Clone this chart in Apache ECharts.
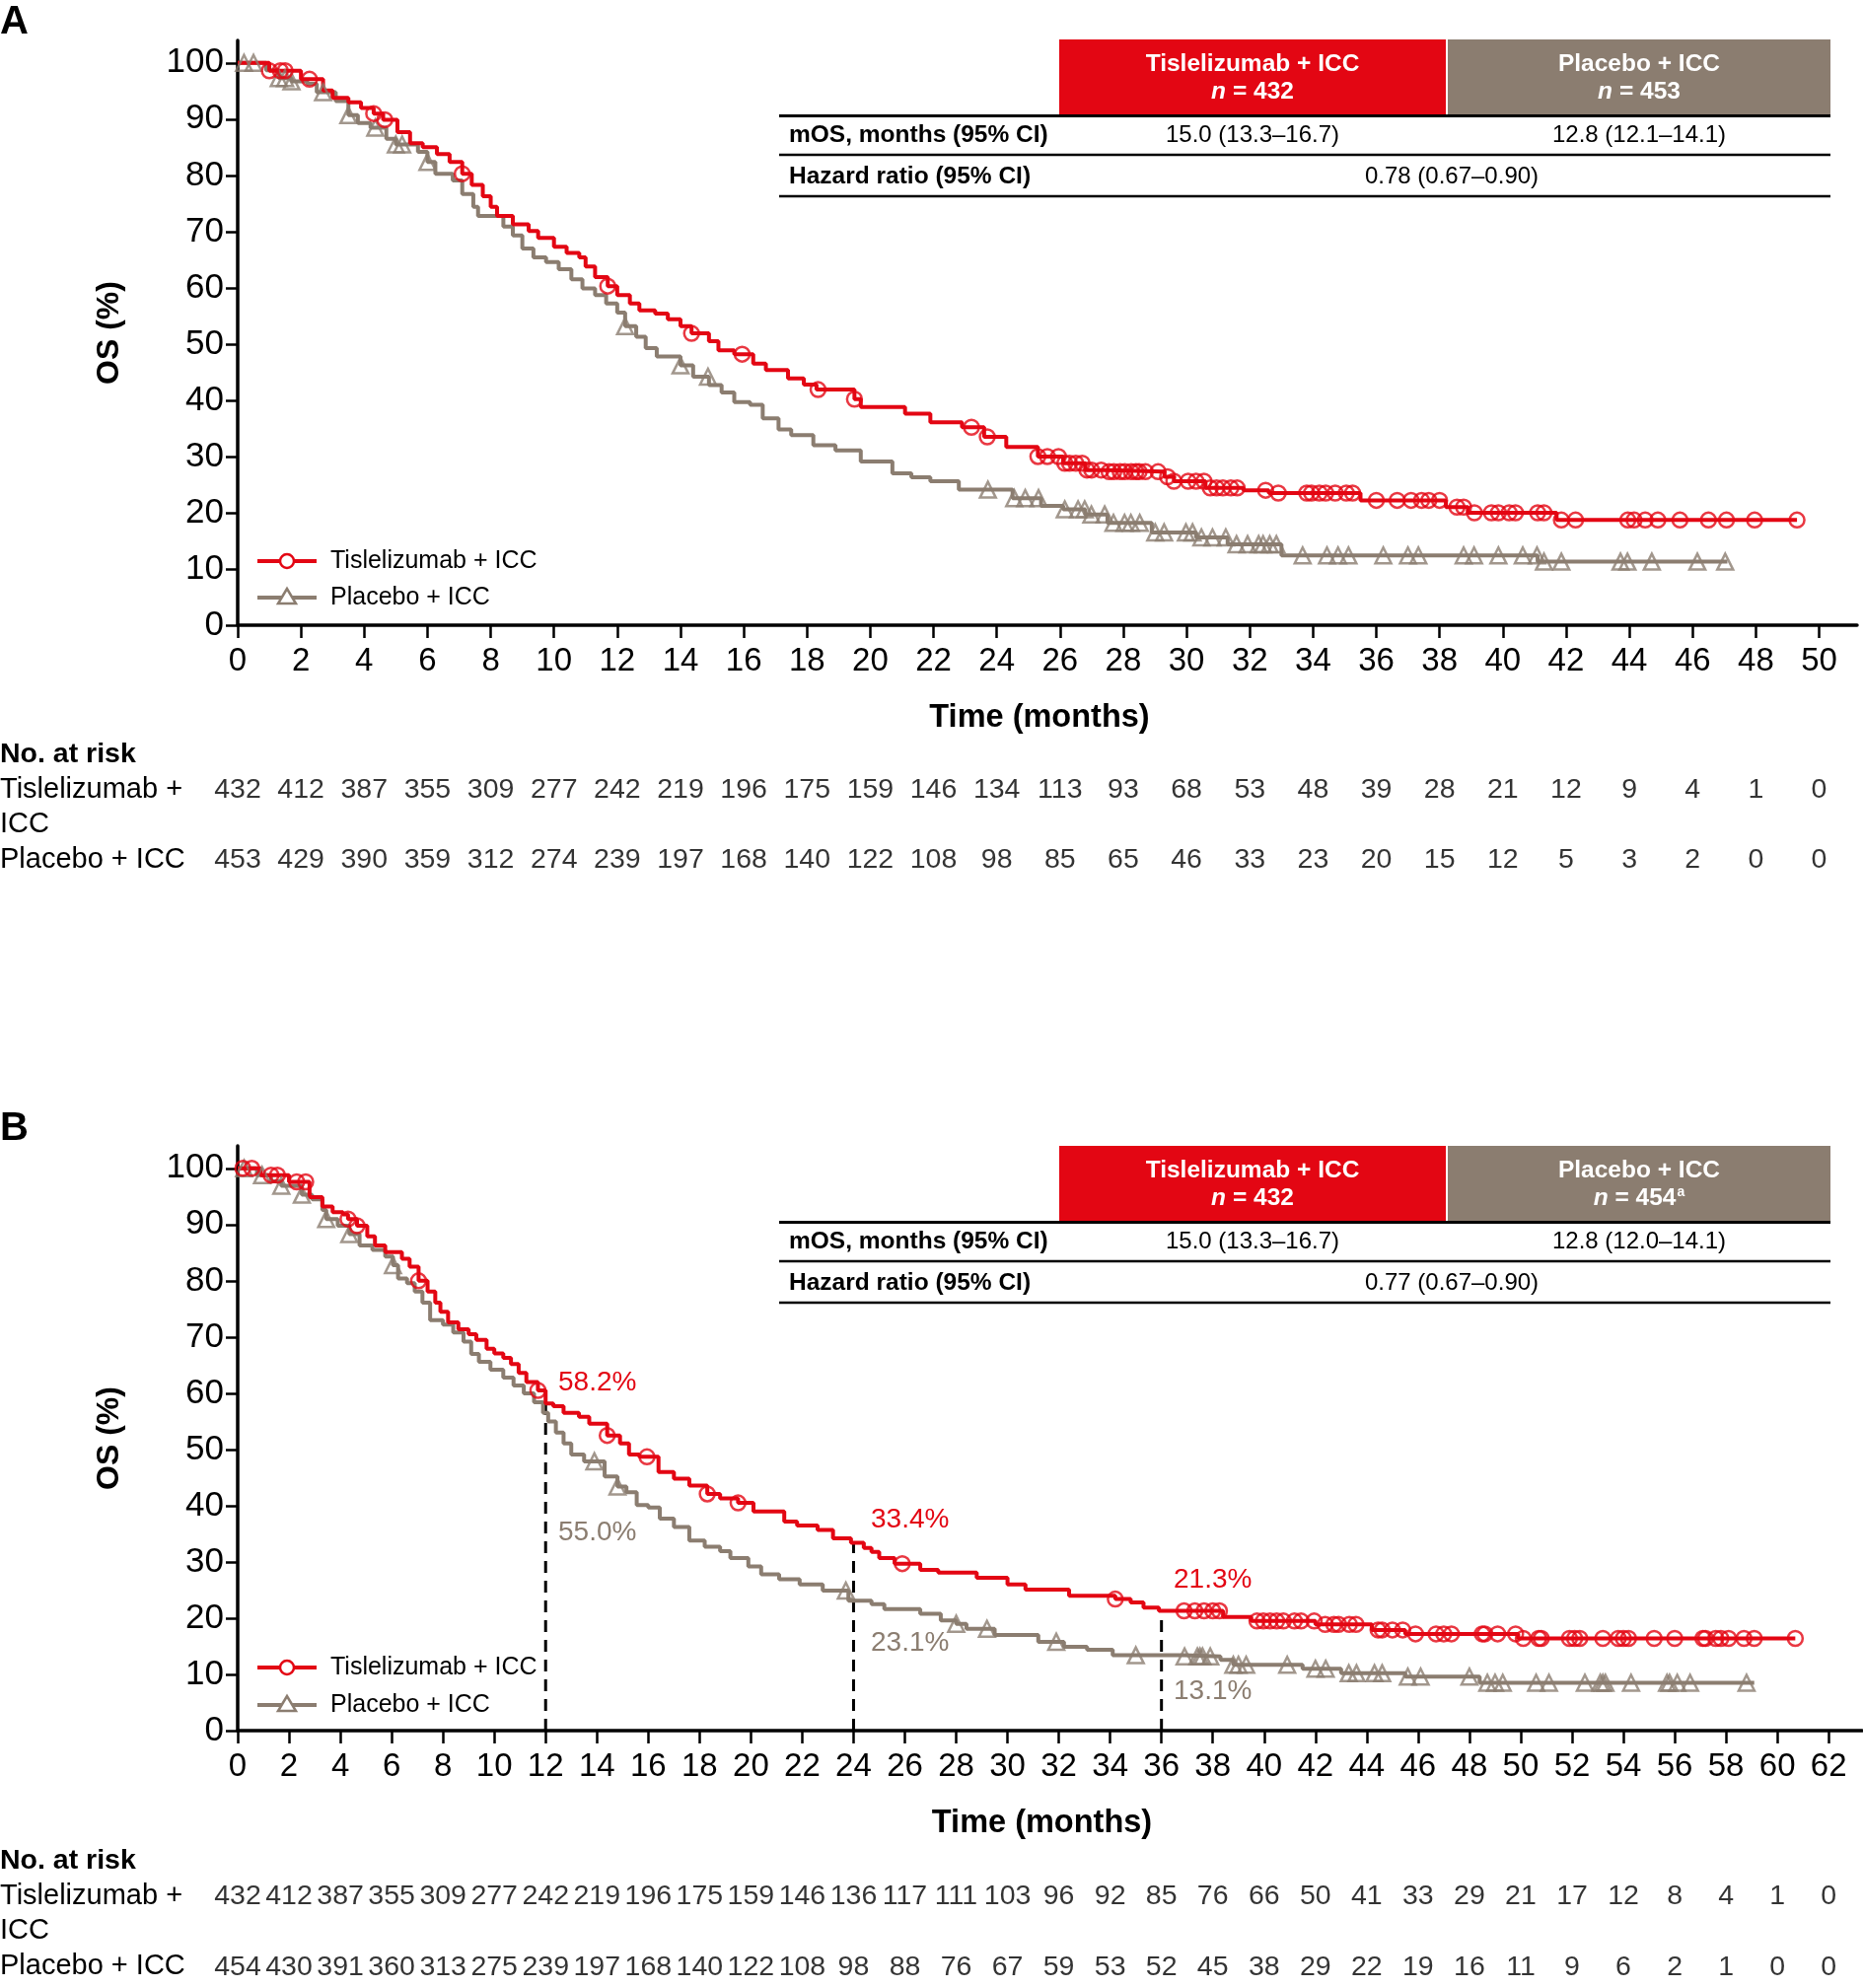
<!DOCTYPE html>
<html>
<head>
<meta charset="utf-8">
<title>Overall survival</title>
<script src="https://cdn.jsdelivr.net/npm/echarts@6.0.0/dist/echarts.min.js"></script>
<style>
  html, body { margin: 0; padding: 0; background: #fff; }
  #chart { width: 1889px; height: 2016px; }
</style>
</head>
<body>
<div id="chart"></div>
<script>
// ---------------- data ----------------
var yTicks = [0, 10, 20, 30, 40, 50, 60, 70, 80, 90, 100];
var xTicksA = [0, 2, 4, 6, 8, 10, 12, 14, 16, 18, 20, 22, 24, 26, 28, 30, 32, 34, 36, 38, 40, 42, 44, 46, 48, 50];
var xTicksB = [0, 2, 4, 6, 8, 10, 12, 14, 16, 18, 20, 22, 24, 26, 28, 30, 32, 34, 36, 38, 40, 42, 44, 46, 48, 50, 52, 54, 56, 58, 60, 62];

var armNames = ['Tislelizumab + ICC', 'Placebo + ICC'];

// panel A: KM steps (months, OS %)
var tislA_t = [0, 1.0, 2.0, 2.7, 3.0, 3.5, 3.9, 4.3, 4.6, 5.05, 5.45, 5.85, 6.3, 6.7, 7.1, 7.4, 7.75, 8.0, 8.2, 8.7,
  9.2, 9.5, 10.0, 10.4, 10.8, 11.0, 11.3, 11.7, 12.0, 12.4, 12.7, 13.2, 13.6, 14.0, 14.35, 14.9, 15.2, 15.7, 16.3, 16.7,
  17.4, 17.9, 18.3, 19.5, 19.7, 21.1, 21.9, 22.9, 23.6, 24.3, 25.3, 26.1, 26.8, 27.5, 29.3, 29.6, 30.6, 31.8, 32.6, 35.5,
  38.2, 38.9, 41.7, 49.3];
var tislA_s = [100, 98.6, 97.1, 95.1, 93.8, 93.0, 92.0, 91.0, 89.9, 87.7, 85.7, 85.0, 83.8, 82.4, 80.3, 78.3, 76.3, 74.4, 72.8, 71.3,
  70.1, 68.9, 67.3, 66.2, 65.4, 63.8, 61.9, 60.3, 58.7, 57.2, 56.0, 55.4, 54.4, 53.2, 51.9, 50.5, 48.9, 48.2, 46.5, 45.4,
  43.9, 42.8, 41.9, 40.2, 38.8, 37.6, 36.1, 35.2, 33.5, 31.7, 30.0, 28.8, 27.6, 27.3, 26.4, 25.6, 24.4, 24.0, 23.5, 22.2,
  21.0, 20.0, 18.7, 18.7];
var placA_t = [0, 0.9, 1.3, 1.7, 2.2, 2.5, 3.1, 3.5, 3.8, 4.2, 4.7, 5.0, 5.7, 6.0, 6.25, 6.8, 7.1, 7.45, 7.6, 8.4,
  8.7, 9.0, 9.35, 9.75, 10.15, 10.55, 10.9, 11.3, 11.65, 12.0, 12.25, 12.6, 12.9, 13.25, 14.0, 14.4, 14.9, 15.3, 15.7, 16.2,
  16.6, 17.1, 17.5, 18.2, 18.9, 19.7, 20.7, 21.3, 21.9, 22.8, 24.5, 25.4, 26.1, 26.8, 27.5, 28.9, 30.3, 31.3, 33.0, 41.1, 47.1];
var placA_s = [100, 98.7, 97.3, 96.7, 96.3, 94.8, 93.2, 90.7, 89.3, 88.5, 86.5, 85.5, 84.2, 82.4, 80.3, 79.1, 76.7, 74.4, 72.8, 70.9,
  69.3, 67.0, 65.4, 64.6, 63.3, 61.5, 59.9, 58.7, 57.2, 55.6, 53.2, 51.3, 49.3, 47.8, 46.2, 44.2, 42.7, 41.4, 39.7, 39.2,
  36.8, 34.8, 33.8, 32.0, 31.1, 29.1, 27.0, 26.3, 25.6, 24.1, 22.6, 21.2, 20.6, 19.7, 18.2, 16.5, 15.6, 14.4, 12.4, 11.3, 11.3];
var tislA_cens = [1.0, 1.35, 1.5, 2.27, 4.3, 4.65, 7.1, 11.7, 14.35, 15.95, 18.35, 19.5, 23.2, 23.7, 25.3, 25.6, 25.95, 26.15,
  26.3, 26.5, 26.7, 26.85, 27.0, 27.3, 27.55, 27.7, 27.9, 28.05, 28.25, 28.4, 28.5, 28.7, 29.1, 29.4, 29.6, 30.05, 30.3,
  30.55, 30.75, 30.95, 31.15, 31.4, 31.6, 32.5, 32.9, 33.8, 33.95, 34.2, 34.4, 34.7, 35.05, 35.25, 36.0, 36.66, 37.1, 37.43,
  37.66, 38.0, 38.55, 38.76, 39.1, 39.64, 39.86, 40.2, 40.4, 41.1, 41.3, 41.85, 42.3, 43.95, 44.15, 44.5, 44.9, 45.6,
  46.5, 47.07, 47.96, 49.3];
var placA_cens = [0.2, 0.5, 1.3, 1.5, 1.7, 2.7, 3.5, 4.35, 5.0, 5.2, 6.0, 12.25, 14.0, 14.87, 23.72, 24.55, 24.9, 25.32,
  26.15, 26.57, 26.78, 26.99, 27.41, 27.69, 28.04, 28.24, 28.52, 29.01, 29.29, 29.98, 30.19, 30.47, 30.82, 31.24, 31.58,
  31.93, 32.28, 32.42, 32.63, 32.84, 33.67, 34.44, 34.79, 35.12, 36.22, 37.0, 37.33, 38.76, 39.09, 39.86, 40.63, 41.08,
  41.3, 41.85, 43.72, 43.94, 44.71, 46.15, 47.03];
var riskTislA = [432, 412, 387, 355, 309, 277, 242, 219, 196, 175, 159, 146, 134, 113, 93, 68, 53, 48, 39, 28, 21, 12, 9, 4, 1, 0];
var riskPlacA = [453, 429, 390, 359, 312, 274, 239, 197, 168, 140, 122, 108, 98, 85, 65, 46, 33, 23, 20, 15, 12, 5, 3, 2, 0, 0];
var nA = [432, 453];
var mosA = ['15.0 (13.3–16.7)', '12.8 (12.1–14.1)'];
var hrA = '0.78 (0.67–0.90)';

// panel B
var tislB_t = [0, 0.9, 2.0, 2.8, 3.3, 3.7, 4.1, 4.3, 4.65, 5.05, 5.35, 5.75, 6.4, 6.7, 7.05, 7.4, 7.7, 7.9, 8.2, 8.6,
  9.0, 9.3, 9.7, 10.0, 10.35, 10.65, 10.95, 11.25, 11.7, 12.0, 12.3, 12.7, 13.3, 13.7, 14.4, 14.9, 15.25, 15.65, 16.4, 17.0,
  17.6, 18.3, 18.8, 19.5, 20.1, 21.3, 21.8, 22.6, 23.2, 23.9, 24.4, 24.7, 25.0, 25.6, 26.6, 27.3, 28.8, 30.0, 30.7, 32.4,
  34.2, 34.8, 35.3, 35.9, 38.4, 39.5, 42.0, 44.2, 45.5, 49.9, 60.7];
var tislB_s = [100, 98.8, 97.6, 94.9, 93.2, 92.2, 91.8, 91.0, 89.8, 87.9, 86.3, 85.1, 83.9, 82.5, 80.0, 78.1, 76.1, 74.5, 72.6, 71.4,
  70.5, 69.5, 67.9, 67.1, 66.3, 65.2, 63.6, 62.0, 60.5, 58.2, 57.7, 56.5, 55.8, 54.6, 52.5, 51.1, 49.1, 48.7, 46.0, 44.8,
  43.6, 42.1, 41.3, 40.5, 39.0, 37.2, 36.5, 35.7, 34.2, 33.4, 32.5, 31.8, 30.7, 29.7, 28.6, 28.1, 27.2, 26.0, 25.1, 24.0,
  23.4, 22.8, 21.9, 21.3, 20.2, 19.5, 18.9, 17.9, 17.2, 16.4, 16.4];
var placB_t = [0, 0.75, 1.3, 1.7, 2.5, 2.9, 3.3, 3.45, 3.9, 4.35, 4.75, 5.25, 5.75, 6.05, 6.25, 6.6, 6.9, 7.2, 7.5, 8.0,
  8.4, 8.8, 9.1, 9.4, 9.85, 10.35, 10.75, 11.15, 11.55, 11.9, 12.1, 12.4, 12.7, 13.0, 13.5, 14.3, 14.8, 15.15, 15.55, 16.0,
  16.45, 17.0, 17.6, 18.2, 18.8, 19.2, 19.9, 20.4, 21.1, 21.9, 22.8, 23.8, 24.7, 25.2, 26.6, 27.4, 28.0, 28.4, 29.5, 31.2,
  32.2, 33.1, 34.1, 36.9, 38.3, 38.8, 41.5, 43.0, 45.5, 48.4, 59.1];
var placB_s = [100, 98.8, 97.7, 96.9, 95.3, 94.5, 92.6, 91.0, 89.8, 88.3, 86.3, 85.5, 84.3, 82.8, 80.4, 79.6, 78.1, 76.1, 73.0, 72.2,
  70.8, 69.2, 67.0, 65.6, 64.2, 62.8, 61.4, 60.0, 58.4, 56.5, 55.0, 53.0, 51.1, 49.1, 47.9, 45.2, 43.4, 42.4, 40.1, 39.7,
  37.7, 36.2, 33.8, 32.7, 31.9, 30.7, 29.2, 27.8, 26.9, 26.0, 24.9, 23.1, 22.5, 21.6, 20.8, 19.6, 19.0, 18.1, 17.0, 15.8,
  14.9, 14.4, 13.4, 13.2, 12.6, 11.7, 11.0, 10.2, 9.6, 8.5, 8.5];
var tislB_cens = [0.2, 0.55, 1.3, 1.55, 2.3, 2.65, 4.3, 4.65, 7.05, 11.7, 14.4, 15.95, 18.3, 19.5, 25.9, 34.2, 36.88, 37.3,
  37.66, 38.0, 38.26, 39.72, 39.97, 40.23, 40.49, 40.75, 41.18, 41.44, 41.95, 42.38, 42.72, 42.9, 43.32, 43.58, 44.44, 44.6,
  45.0, 45.4, 45.9, 46.7, 47.0, 47.3, 48.5, 48.6, 49.1, 49.8, 50.1, 50.7, 50.8, 51.9, 52.1, 52.3, 53.2, 53.8, 54.0, 54.2,
  55.2, 56.0, 57.1, 57.2, 57.6, 57.8, 58.1, 58.7, 59.1, 60.7];
var placB_cens = [0.25, 0.95, 1.7, 2.5, 3.45, 4.35, 6.05, 13.9, 14.8, 23.7, 28.0, 29.2, 31.9, 35.0, 36.9, 37.4, 37.5, 37.6,
  37.9, 38.8, 39.0, 39.3, 40.9, 42.0, 42.4, 43.3, 43.6, 44.3, 44.6, 45.6, 46.1, 48.0, 48.7, 49.0, 49.3, 50.6, 51.1, 52.5,
  53.1, 53.2, 53.3, 54.3, 55.7, 55.8, 56.1, 56.6, 58.8];
var riskTislB = [432, 412, 387, 355, 309, 277, 242, 219, 196, 175, 159, 146, 136, 117, 111, 103, 96, 92, 85, 76, 66, 50, 41, 33, 29, 21, 17, 12, 8, 4, 1, 0];
var riskPlacB = [454, 430, 391, 360, 313, 275, 239, 197, 168, 140, 122, 108, 98, 88, 76, 67, 59, 53, 52, 45, 38, 29, 22, 19, 16, 11, 9, 6, 2, 1, 0, 0];
var nB = [432, 454];
var mosB = ['15.0 (13.3–16.7)', '12.8 (12.0–14.1)'];
var hrB = '0.77 (0.67–0.90)';

var landmarkMonths = [12, 24, 36];
var landmarkTisl = [58.2, 33.4, 21.3];
var landmarkPlac = [55.0, 23.1, 13.1];

// ---------------- styling ----------------
var RED = '#e30613';
var GREY = '#8b7d70';
var FONT = '"Liberation Sans", Arial, Helvetica, sans-serif';

function zip(ts, ss) {
  return ts.map(function (t, i) { return [t, ss[i]]; });
}
function survAt(ts, ss, t) {
  var v = ss[0];
  for (var i = 0; i < ts.length; i++) { if (ts[i] <= t) v = ss[i]; }
  return v;
}
function censorPts(cens, ts, ss) {
  return cens.map(function (t) { return [t, survAt(ts, ss, t)]; });
}
function riskPts(ticks, a, b) {
  var out = [];
  ticks.forEach(function (t, i) { out.push([t, 1, a[i]]); out.push([t, 0, b[i]]); });
  return out;
}

function mainX(gi, max, ticks) {
  return {
    type: 'value', gridIndex: gi, min: 0, max: max,
    name: 'Time (months)', nameLocation: 'middle', nameGap: 78,
    nameTextStyle: { fontSize: 32.5, fontWeight: 'bold', color: '#000', fontFamily: FONT, padding: [0, 16, 0, 0] },
    axisLine: { lineStyle: { color: '#000', width: 3.5 } },
    axisTick: { length: 13, lineStyle: { color: '#000', width: 2.5 }, customValues: ticks },
    axisLabel: { fontSize: 33, color: '#000', margin: 20, fontFamily: FONT, customValues: ticks },
    splitLine: { show: false }
  };
}
function mainY(gi) {
  return {
    type: 'value', gridIndex: gi, min: 0, max: 104,
    name: 'OS (%)', nameLocation: 'middle', nameGap: 114,
    nameTextStyle: { fontSize: 32, fontWeight: 'bold', color: '#000', fontFamily: FONT },
    axisLine: { show: true, lineStyle: { color: '#000', width: 3.5 } },
    axisTick: { show: true, length: 12, lineStyle: { color: '#000', width: 2.5 }, customValues: yTicks },
    axisLabel: { fontSize: 35, color: '#000', margin: 14, fontFamily: FONT, customValues: yTicks },
    splitLine: { show: false }
  };
}
function kmLine(name, color, xi, ts, ss, z) {
  return {
    type: 'line', name: name, xAxisIndex: xi, yAxisIndex: xi, step: 'end',
    data: zip(ts, ss), symbol: 'none', z: z,
    lineStyle: { color: color, width: 4 }
  };
}
function censor(color, xi, symbol, cens, ts, ss, z) {
  return {
    type: 'scatter', xAxisIndex: xi, yAxisIndex: xi, symbol: symbol, symbolSize: symbol === 'circle' ? 15 : 16,
    data: censorPts(cens, ts, ss), z: z,
    itemStyle: { color: 'rgba(0,0,0,0)', borderColor: color, borderWidth: 2.5 }
  };
}
function riskRow(xi, ticks, a, b) {
  return {
    type: 'scatter', xAxisIndex: xi, yAxisIndex: xi, symbolSize: 1,
    itemStyle: { color: 'rgba(0,0,0,0)' },
    data: riskPts(ticks, a, b),
    label: {
      show: true, position: 'inside', fontSize: 28.5, color: '#000', fontFamily: FONT,
      formatter: function (p) { return String(p.value[2]); }
    }
  };
}

var series = [
  kmLine(armNames[1], GREY, 0, placA_t, placA_s, 3),
  kmLine(armNames[0], RED, 0, tislA_t, tislA_s, 4),
  censor(GREY, 0, 'triangle', placA_cens, placA_t, placA_s, 5),
  censor(RED, 0, 'circle', tislA_cens, tislA_t, tislA_s, 6),
  riskRow(1, xTicksA, riskTislA, riskPlacA),
  kmLine(armNames[1], GREY, 2, placB_t, placB_s, 3),
  kmLine(armNames[0], RED, 2, tislB_t, tislB_s, 4),
  censor(GREY, 2, 'triangle', placB_cens, placB_t, placB_s, 5),
  censor(RED, 2, 'circle', tislB_cens, tislB_t, tislB_s, 6),
  riskRow(3, xTicksB, riskTislB, riskPlacB)
];
landmarkMonths.forEach(function (m, i) {
  series.push({
    type: 'line', xAxisIndex: 2, yAxisIndex: 2, symbol: 'none', z: 2,
    data: [[m, 0], [m, landmarkTisl[i]]],
    lineStyle: { color: '#000', width: 3, type: [12, 8] }
  });
});

// ---------------- graphic: tables, legends, labels ----------------
var graphic = [];
function txt(x, y, text, opt) {
  opt = opt || {};
  graphic.push({
    type: 'text', x: x, y: y, z: 50,
    style: {
      text: text, fill: opt.fill || '#000', fontFamily: FONT,
      fontSize: opt.size || 28, fontWeight: opt.weight || 'normal',
      align: opt.align || 'left', verticalAlign: 'middle', rich: opt.rich
    }
  });
}
function hline(x1, x2, y, w) {
  graphic.push({ type: 'line', z: 50, shape: { x1: x1, y1: y, x2: x2, y2: y }, style: { stroke: '#000', lineWidth: w } });
}
function summaryTable(dy, n, mos, hr, footnote) {
  graphic.push({ type: 'rect', z: 49, shape: { x: 1074, y: 40 + dy, width: 392, height: 76 }, style: { fill: RED } });
  graphic.push({ type: 'rect', z: 49, shape: { x: 1468, y: 40 + dy, width: 388, height: 76 }, style: { fill: GREY } });
  var rich = {
    i: { fontStyle: 'italic', fontWeight: 'bold', fontSize: 24.5, fill: '#fff', fontFamily: FONT },
    b: { fontWeight: 'bold', fontSize: 24.5, fill: '#fff', fontFamily: FONT },
    s: { fontWeight: 'bold', fontSize: 14, fill: '#fff', fontFamily: FONT, padding: [0, 0, 12, 1] }
  };
  var centers = [1270, 1662];
  for (var k = 0; k < 2; k++) {
    txt(centers[k], 65 + dy, armNames[k], { fill: '#fff', size: 24.5, weight: 'bold', align: 'center' });
    txt(centers[k], 93 + dy, '{i|n}{b| = ' + n[k] + '}' + (k === 1 && footnote ? '{s|' + footnote + '}' : ''),
      { fill: '#fff', size: 24.5, weight: 'bold', align: 'center', rich: rich });
    txt(centers[k], 137 + dy, mos[k], { size: 24, align: 'center' });
  }
  hline(790, 1856, 117.5 + dy, 3);
  hline(790, 1856, 157 + dy, 2.5);
  hline(790, 1856, 199 + dy, 2.5);
  txt(800, 137 + dy, 'mOS, months (95% CI)', { size: 24.5, weight: 'bold' });
  txt(800, 179 + dy, 'Hazard ratio (95% CI)', { size: 24.5, weight: 'bold' });
  txt(1472, 179 + dy, hr, { size: 24, align: 'center' });
}
function legend(y1, y2) {
  graphic.push({ type: 'line', z: 50, shape: { x1: 261, y1: y1, x2: 321, y2: y1 }, style: { stroke: RED, lineWidth: 4 } });
  graphic.push({ type: 'circle', z: 51, shape: { cx: 291, cy: y1, r: 7 }, style: { fill: '#fff', stroke: RED, lineWidth: 2.5 } });
  graphic.push({ type: 'line', z: 50, shape: { x1: 261, y1: y2, x2: 321, y2: y2 }, style: { stroke: GREY, lineWidth: 4 } });
  graphic.push({ type: 'polygon', z: 51, shape: { points: [[291, y2 - 9], [282, y2 + 6], [300, y2 + 6]] }, style: { fill: '#fff', stroke: GREY, lineWidth: 2.5 } });
  txt(335, y1, armNames[0], { size: 25 });
  txt(335, y2, armNames[1], { size: 25 });
}
function riskLabels(dy) {
  txt(0, 765 + dy, 'No. at risk', { size: 28.5, weight: 'bold' });
  txt(0, 801 + dy, 'Tislelizumab +', { size: 29 });
  txt(0, 836 + dy, 'ICC', { size: 29 });
  txt(0, 872 + dy, armNames[1], { size: 29 });
}

txt(0, 23, 'A', { size: 40, weight: 'bold' });
txt(0, 1145, 'B', { size: 40, weight: 'bold' });
summaryTable(0, nA, mosA, hrA, '');
summaryTable(1122, nB, mosB, hrB, 'a');
legend(569, 606);
legend(1691, 1729);
riskLabels(0);
riskLabels(1122);

// landmark annotations (panel B)
var annX = [566, 883, 1190];
var annTislY = [1402, 1541, 1602];
var annPlacY = [1554, 1666, 1715];
landmarkMonths.forEach(function (m, i) {
  txt(annX[i], annTislY[i], landmarkTisl[i].toFixed(1) + '%', { size: 28, fill: RED });
  txt(annX[i], annPlacY[i], landmarkPlac[i].toFixed(1) + '%', { size: 28, fill: GREY });
});

var chart = echarts.init(document.getElementById('chart'), null, { renderer: 'canvas' });
chart.setOption({
  animation: false,
  backgroundColor: '#fff',
  textStyle: { fontFamily: FONT },
  grid: [
    { left: 241, top: 41, width: 1642, height: 593, outerBoundsMode: 'none' },
    { left: 241, top: 801, width: 1642, height: 71, outerBoundsMode: 'none' },
    { left: 241, top: 1162, width: 1647, height: 593, outerBoundsMode: 'none' },
    { left: 241, top: 1923, width: 1647, height: 72, outerBoundsMode: 'none' }
  ],
  xAxis: [
    mainX(0, 51.2, xTicksA),
    { type: 'value', gridIndex: 1, min: 0, max: 51.2, show: false },
    mainX(2, 63.3, xTicksB),
    { type: 'value', gridIndex: 3, min: 0, max: 63.3, show: false }
  ],
  yAxis: [
    mainY(0),
    { type: 'value', gridIndex: 1, min: 0, max: 1, show: false },
    mainY(2),
    { type: 'value', gridIndex: 3, min: 0, max: 1, show: false }
  ],
  series: series,
  graphic: graphic
});
</script>
</body>
</html>
